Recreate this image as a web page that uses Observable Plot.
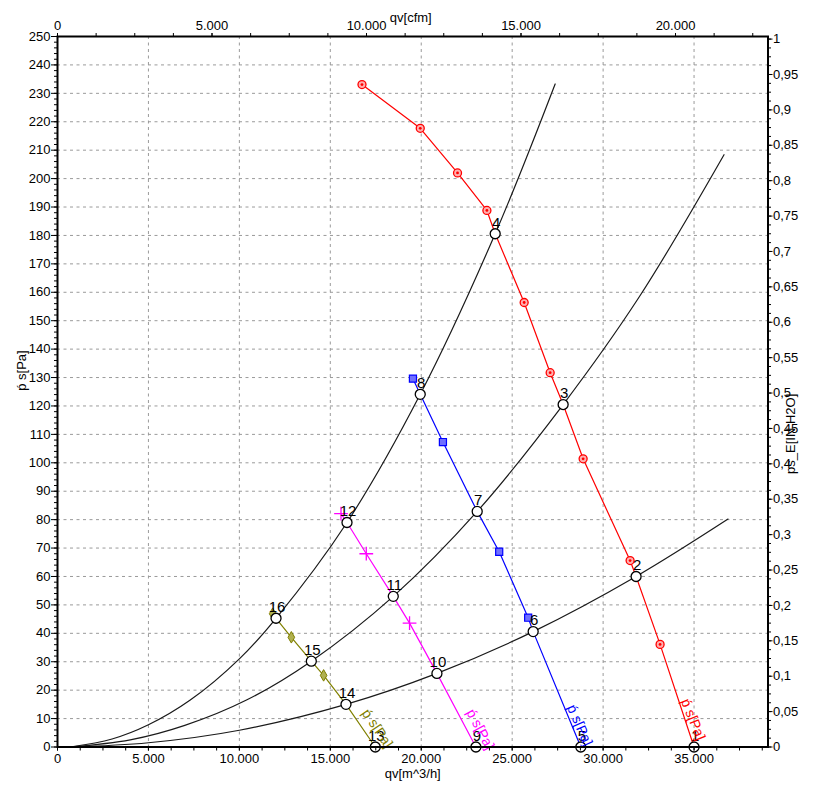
<!DOCTYPE html>
<html><head><meta charset="utf-8">
<script src="https://cdn.jsdelivr.net/npm/d3@7"></script>
<script src="https://cdn.jsdelivr.net/npm/@observablehq/plot@0.6"></script>
<style>body{margin:0;background:#fff} svg{display:block}</style>
</head><body><div id="chart"></div>
<script>
// ---- axis ticks ----
const xMajorTicks = [0, 5000, 10000, 15000, 20000, 25000, 30000, 35000];
const xGridTicks = [5000, 10000, 15000, 20000, 25000, 30000, 35000];
const cfmMajorTicks = [0, 5000, 10000, 15000, 20000];
const yMajorTicks = [0,10,20,30,40,50,60,70,80,90,100,110,120,130,140,150,160,170,180,190,200,210,220,230,240,250];
const yGridTicks = [10,20,30,40,50,60,70,80,90,100,110,120,130,140,150,160,170,180,190,200,210,220,230,240];
const inH2OTicks = [0,0.05,0.1,0.15,0.2,0.25,0.3,0.35,0.4,0.45,0.5,0.55,0.6,0.65,0.7,0.75,0.8,0.85,0.9,0.95,1];

// ---- system curves (qv m^3/h, ps Pa) ----
const sysA_q = [700, 3000, 5000, 7300, 10000, 12016, 15918, 19945, 24066, 27363];
const sysA_p = [0, 2.8, 7.8, 16.5, 31, 45.3, 79.0, 124.1, 180.6, 233.3];
const sysB_q = [700, 4000, 7000, 10420, 13956, 18462, 23077, 27802, 32000, 36648];
const sysB_p = [0, 2.5, 7.6, 16.6, 30.2, 53.0, 82.9, 120.5, 158.5, 208.4];
const sysC_q = [700, 5000, 10000, 15862, 20863, 26154, 31813, 36868];
const sysC_p = [0, 1.5, 5.9, 15.0, 25.9, 40.6, 60.0, 80.2];

// ---- fan curve markers ----
const red_q = [16742, 19945, 21995, 23610, 25659, 27088, 28901, 31484, 33132];
const red_p = [233.1, 217.7, 202.0, 188.8, 156.4, 131.7, 101.4, 65.6, 36.1];
const blue_q = [19543, 21192, 24286, 25879];
const blue_p = [129.6, 107.3, 68.7, 45.5];
const mag_q = [15588, 16978, 19357];
const mag_p = [82.1, 68.0, 43.6];
const olive_q = [11830, 12857, 14632];
const olive_p = [46.9, 38.6, 25.2];

// ---- operating points ----
const op_id = ["1","2","3","4","5","6","7","8","9","10","11","12","13","14","15","16"];
const op_q = [35000, 31813, 27802, 24066, 28773, 26154, 23077, 19945, 23005, 20863, 18462, 15918, 17473, 15862, 13956, 12016];
const op_p = [0, 60.0, 120.5, 180.6, 0, 40.6, 82.9, 124.1, 0, 25.9, 53.0, 79.0, 0, 15.0, 30.2, 45.3];
const op_curve = ["red","red","red","red","blue","blue","blue","blue","mag","mag","mag","mag","olive","olive","olive","olive"];

// ---- curve labels ----
const lab_curve = ["red","blue","mag","olive"];
const lab_q = [34945, 28709, 23242, 17582];
const lab_p = [9.7, 7.6, 6.2, 6.5];
const lab_rot = [68, 66, 62, 56];
const curveText = "ṕ s[Pa]";

const CFM = 1.69901;   // m^3/h per cfm
const INH2O = 249.089; // Pa per in H2O
const colors = {red: "#ff0000", blue: "#0000ff", mag: "#ff00ff", olive: "#808000"};

const zip = (q, p, extra = {}) => q.map((v, i) => ({q: v, p: p[i], ...extra}));
const ops = op_q.map((q, i) => ({q, p: op_p[i], id: op_id[i], c: op_curve[i]}));
const fanLine = (key, q, p) => zip(q, p, {c: key}).concat(ops.filter(d => d.c === key)).sort((a, b) => a.q - b.q);
const sysData = [...zip(sysA_q, sysA_p, {s: "A"}), ...zip(sysB_q, sysB_p, {s: "B"}), ...zip(sysC_q, sysC_p, {s: "C"})];
const labels = lab_curve.map((c, i) => ({c, q: lab_q[i], p: lab_p[i], r: lab_rot[i]}));

const dotFmt = d => d3.format(",")(d).replace(/,/g, ".");
const commaFmt = v => String(v).replace(".", ",");

const grid = {stroke: "#9a9a9a", strokeOpacity: 1, strokeDasharray: "3,3.5", strokeWidth: 1};

const marks = [
  Plot.gridX(xGridTicks, grid),
  Plot.gridY(yGridTicks, grid),
  // system curves
  Plot.line(sysData, {x: "q", y: "p", z: "s", stroke: "#1a1a1a", strokeWidth: 1.2, curve: "catmull-rom"}),
];
for (const [key, q, p] of [["red", red_q, red_p], ["blue", blue_q, blue_p], ["mag", mag_q, mag_p], ["olive", olive_q, olive_p]]) {
  marks.push(Plot.line(fanLine(key, q, p), {x: "q", y: "p", stroke: colors[key], strokeWidth: 1.2}));
}
marks.push(
  Plot.dot(zip(red_q, red_p), {x: "q", y: "p", r: 4, stroke: "#ff0000", fill: "#ffb0b0", strokeWidth: 1.3}),
  Plot.dot(zip(red_q, red_p), {x: "q", y: "p", r: 1.4, fill: "#ff0000"}),
  Plot.dot(zip(blue_q, blue_p), {x: "q", y: "p", symbol: "square", r: 4, stroke: "#0000ff", fill: "#6f6fff", strokeWidth: 1.2}),
  Plot.dot(zip(mag_q, mag_p), {x: "q", y: "p", symbol: "plus", r: 4.5, stroke: "#ff00ff", strokeWidth: 1.3}),
  Plot.dot(zip(olive_q, olive_p), {x: "q", y: "p", symbol: "diamond", r: 3.5, stroke: "#808000", fill: "#b0b050", strokeWidth: 1}),
  // operating points
  Plot.dot(ops, {x: "q", y: "p", r: 5, fill: "white", stroke: "black", strokeWidth: 1.3}),
  Plot.text(ops, {x: "q", y: "p", text: "id", dy: -11, dx: 1, fontSize: 15, fill: "black"}),
  // curve labels
  ...labels.map(d => Plot.text([d], {x: "q", y: "p", text: () => curveText, rotate: d.r, fill: colors[d.c], fontSize: 14})),
  // axes
  Plot.axisX(xMajorTicks, {anchor: "bottom", tickSize: 4, tickPadding: 3, tickFormat: dotFmt, fontSize: 13, label: null}),
  Plot.axisX(d3.range(0, 39001, 1250), {anchor: "bottom", tickSize: 4, tickFormat: () => "", label: null}),
  Plot.axisX(cfmMajorTicks.map(c => c * CFM), {anchor: "top", tickSize: 4, tickPadding: 3, tickFormat: d => dotFmt(Math.round(d / CFM)), fontSize: 13, label: null}),
  Plot.axisX(d3.range(0, 22501, 1250).map(c => c * CFM), {anchor: "top", tickSize: 4, tickFormat: () => "", label: null}),
  Plot.axisY(yMajorTicks, {anchor: "left", tickSize: 6, tickPadding: 1, fontSize: 13, label: null}),
  Plot.axisY(d3.range(0, 251, 2), {anchor: "left", tickSize: 3, tickFormat: () => "", label: null}),
  Plot.axisY(inH2OTicks.map(v => v * INH2O), {anchor: "right", tickSize: 4, tickPadding: 1, tickFormat: d => commaFmt(Math.round(d / INH2O * 100) / 100), fontSize: 13, label: null}),
  Plot.axisY(d3.range(0, 81).map(i => i * 0.0125 * INH2O), {anchor: "right", tickSize: 2.5, tickFormat: () => "", label: null}),
  Plot.frame({stroke: "black", strokeWidth: 2}),
  // axis titles
  Plot.text(["qv[cfm]"], {frameAnchor: "top", dy: -24, dx: -2, fontSize: 13, text: d => d}),
  Plot.text(["qv[m^3/h]"], {frameAnchor: "bottom", dy: 31, dx: 0, fontSize: 13, text: d => d}),
  Plot.text(["ṕ s[Pa]"], {frameAnchor: "left", dx: -36, dy: -1, rotate: -90, fontSize: 13, text: d => d}),
  Plot.text(["ps_E[IN H2O]"], {frameAnchor: "right", dx: 23, dy: 2, rotate: -90, fontSize: 13, text: d => d})
);

const chart = Plot.plot({
  width: 820,
  height: 789,
  marginLeft: 57,
  marginRight: 52.5,
  marginTop: 36,
  marginBottom: 42.5,
  style: {fontFamily: "'Liberation Sans', Arial, sans-serif", fontSize: "13px", background: "white", color: "black"},
  x: {domain: [0, 39066]},
  y: {domain: [0, 250]},
  marks
});
document.getElementById("chart").appendChild(chart);
</script>
</body></html>
